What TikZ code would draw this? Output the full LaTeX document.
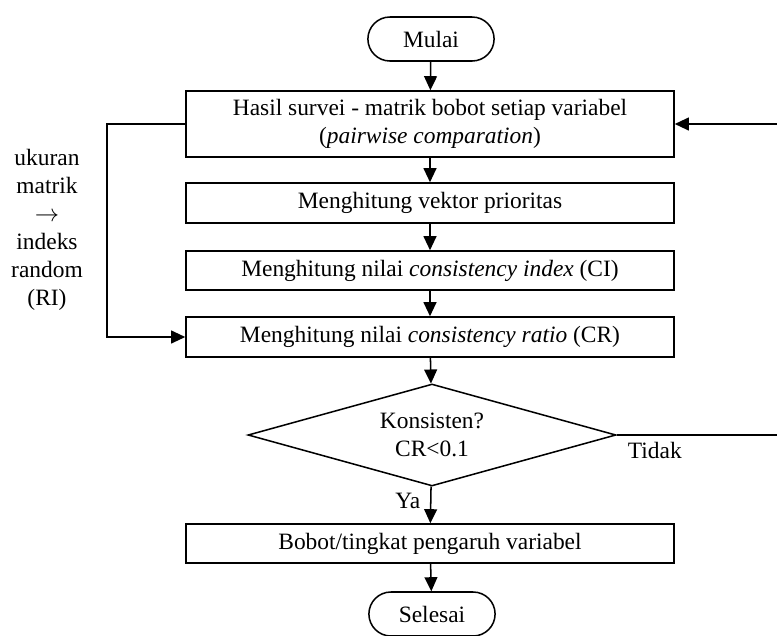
\documentclass[tikz,border=0pt]{standalone}
\usepackage{fontspec}
\setmainfont{Liberation Serif}
\usetikzlibrary{shapes.geometric,shapes.misc,arrows.meta}

\begin{document}
\begin{tikzpicture}[x=0.03cm, y=-0.03cm, line width=1.3pt, >={Triangle[length=12pt, width=11pt]},
    font=\fontsize{20}{24}\selectfont]
    \tikzstyle{box_style}=[rectangle, draw, minimum width=14.64cm, inner sep=2pt, align=center]
    \tikzstyle{terminal_style}=[rounded rectangle, draw, minimum width=4.02cm, minimum height=1.32cm]
    \tikzstyle{decision_style}=[diamond, draw, minimum width=11.04cm, minimum height=3.06cm, shape aspect=3.6, inner sep=0pt, align=center]

    \useasboundingbox (0,0) rectangle (777,635);
    \clip (0,0) rectangle (777,635);

    % start
    \draw node at (431, 39) [terminal_style] (start) {Mulai};

    % steps
    \draw node at (430, 124) [box_style, minimum height=1.98cm] (survey) {Hasil survei - matrik bobot setiap variabel\\(\textit{pairwise comparation})};
    \draw node at (430, 203) [box_style, minimum height=1.2cm] (priority) {Menghitung vektor prioritas};
    \draw node at (430, 270.5) [box_style, minimum height=1.17cm] (ci) {Menghitung nilai \textit{consistency index} (CI)};
    \draw node at (430, 337) [box_style, minimum height=1.2cm] (cr) {Menghitung nilai \textit{consistency ratio} (CR)};

    % decision
    \draw node at (432, 435) [decision_style] (check) {Konsisten?\\CR<0.1};

    % result
    \draw node at (430, 543.5) [box_style, minimum height=1.17cm] (weight) {Bobot/tingkat pengaruh variabel};
    \draw node at (432, 614) [terminal_style] (finish) {Selesai};

    % side note
    \node at (47, 230) [align=center] (note) {ukuran\\matrik\\$\rightarrow$\\indeks\\random\\(RI)};

    % turning points
    \coordinate (left_bend) at (107, 124);
    \coordinate (right_low) at (790, 435);

    % connect: main flow
    \path[->] (start) edge node[] {} (survey);
    \path[->] (survey) edge node[] {} (priority);
    \path[->] (priority) edge node[] {} (ci);
    \path[->] (ci) edge node[] {} (cr);
    \path[->] (cr) edge node[] {} (check);
    \path[->] (check) edge node[left, pos=0.4, xshift=-5pt] {Ya} (weight);
    \path[->] (weight) edge node[] {} (finish);

    % connect: RI feedback
    \draw[->] (survey.west) -- (left_bend) |- (cr.west);

    % connect: not consistent
    \draw (check.east) -- node[below, pos=0.22, yshift=-2pt] {Tidak} (right_low);
    \draw[->] (right_low) |- (survey.east);

\end{tikzpicture}
\end{document}
